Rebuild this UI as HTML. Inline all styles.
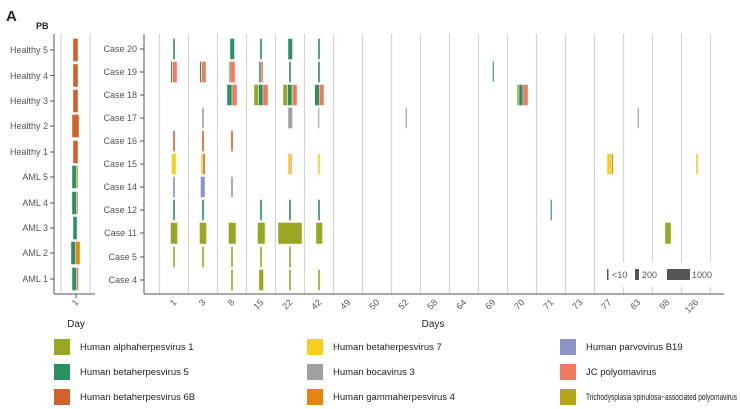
<!DOCTYPE html>
<html><head><meta charset="utf-8"><style>
html,body{margin:0;padding:0;background:#fff;}
svg{display:block;font-family:"Liberation Sans",Arial,sans-serif;}
.t{fill:#555;font-size:9px;}
.g{stroke:#d4d4d4;stroke-width:1.2;}
rect.b{stroke:#fff;stroke-width:0.4;}
</style></head><body>
<svg width="740" height="409" viewBox="0 0 740 409">
<text x="6" y="21" font-size="15" font-weight="bold" fill="#222">A</text>
<text x="36" y="29" font-size="9" font-weight="bold" fill="#222">PB</text>

<g class="g"><line x1="61" y1="34" x2="61" y2="294"/><line x1="90" y1="34" x2="90" y2="294"/></g>
<line x1="54" y1="34" x2="54" y2="294" stroke="#555"/>
<line x1="54" y1="294" x2="95" y2="294" stroke="#555"/>
<g class="t" text-anchor="end">
<text x="48" y="53">Healthy 5</text><text x="48" y="79">Healthy 4</text><text x="48" y="104">Healthy 3</text><text x="48" y="129">Healthy 2</text><text x="48" y="155">Healthy 1</text><text x="48" y="180">AML 5</text><text x="48" y="206">AML 4</text><text x="48" y="231">AML 3</text><text x="48" y="256">AML 2</text><text x="48" y="282">AML 1</text>
</g>
<g stroke="#555"><line x1="50" y1="50" x2="54" y2="50"/><line x1="50" y1="75.5" x2="54" y2="75.5"/><line x1="50" y1="101" x2="54" y2="101"/><line x1="50" y1="126" x2="54" y2="126"/><line x1="50" y1="152" x2="54" y2="152"/><line x1="50" y1="177" x2="54" y2="177"/><line x1="50" y1="203" x2="54" y2="203"/><line x1="50" y1="228" x2="54" y2="228"/><line x1="50" y1="253" x2="54" y2="253"/><line x1="50" y1="279" x2="54" y2="279"/><line x1="76" y1="294" x2="76" y2="298"/></g>
<g>
<rect class="b" x="73" y="38.5" width="5" height="23" fill="#d2622a"/>
<rect class="b" x="73" y="64" width="5" height="23" fill="#d2622a"/>
<rect class="b" x="73" y="89.5" width="5" height="23" fill="#d2622a"/>
<rect class="b" x="72" y="114.5" width="7" height="23" fill="#d2622a"/>
<rect class="b" x="73" y="140.5" width="5" height="23" fill="#d2622a"/>
<rect class="b" x="72" y="165.5" width="4.5" height="23" fill="#2a9160"/><rect class="b" x="76.5" y="165.5" width="1.5" height="23" fill="#9aa722"/>
<rect class="b" x="72" y="191.5" width="4.5" height="23" fill="#2a9160"/><rect class="b" x="76.5" y="191.5" width="1.5" height="23" fill="#ef7a5f"/>
<rect class="b" x="73" y="216.5" width="4" height="23" fill="#2a9160"/>
<rect class="b" x="71" y="241.5" width="4.5" height="23" fill="#2a9160"/><rect class="b" x="75.5" y="241.5" width="4.5" height="23" fill="#e5860f"/>
<rect class="b" x="72" y="267.5" width="4.5" height="23" fill="#2a9160"/><rect class="b" x="76.5" y="267.5" width="2" height="23" fill="#ef7a5f"/>
</g>
<text class="t" transform="translate(79,303) rotate(-45)" text-anchor="end">1</text>
<text x="76" y="327" font-size="10" fill="#222" text-anchor="middle">Day</text>

<g class="g">
<line x1="159.5" y1="34" x2="159.5" y2="294"/><line x1="188.5" y1="34" x2="188.5" y2="294"/><line x1="217.5" y1="34" x2="217.5" y2="294"/><line x1="246.5" y1="34" x2="246.5" y2="294"/><line x1="275.5" y1="34" x2="275.5" y2="294"/><line x1="304.5" y1="34" x2="304.5" y2="294"/><line x1="333.5" y1="34" x2="333.5" y2="294"/><line x1="362.5" y1="34" x2="362.5" y2="294"/><line x1="391.5" y1="34" x2="391.5" y2="294"/><line x1="420.5" y1="34" x2="420.5" y2="294"/><line x1="449.5" y1="34" x2="449.5" y2="294"/><line x1="478.5" y1="34" x2="478.5" y2="294"/><line x1="507.5" y1="34" x2="507.5" y2="294"/><line x1="536.5" y1="34" x2="536.5" y2="294"/><line x1="565.5" y1="34" x2="565.5" y2="294"/><line x1="594.5" y1="34" x2="594.5" y2="294"/><line x1="623.5" y1="34" x2="623.5" y2="294"/><line x1="652.5" y1="34" x2="652.5" y2="294"/><line x1="681.5" y1="34" x2="681.5" y2="294"/><line x1="710.5" y1="34" x2="710.5" y2="294"/>
</g>
<rect x="600" y="262" width="115" height="25" fill="#fff"/>
<line x1="144" y1="34" x2="144" y2="294" stroke="#555"/>
<line x1="144" y1="294" x2="724" y2="294" stroke="#555"/>
<g class="t" text-anchor="end">
<text x="137" y="52">Case 20</text><text x="137" y="75">Case 19</text><text x="137" y="98">Case 18</text><text x="137" y="121">Case 17</text><text x="137" y="144">Case 16</text><text x="137" y="167">Case 15</text><text x="137" y="190">Case 14</text><text x="137" y="213">Case 12</text><text x="137" y="236">Case 11</text><text x="137" y="260">Case 5</text><text x="137" y="283">Case 4</text>
</g>
<g stroke="#555"><line x1="140" y1="49" x2="144" y2="49"/><line x1="140" y1="72" x2="144" y2="72"/><line x1="140" y1="95" x2="144" y2="95"/><line x1="140" y1="118" x2="144" y2="118"/><line x1="140" y1="141" x2="144" y2="141"/><line x1="140" y1="164" x2="144" y2="164"/><line x1="140" y1="187" x2="144" y2="187"/><line x1="140" y1="210" x2="144" y2="210"/><line x1="140" y1="233" x2="144" y2="233"/><line x1="140" y1="257" x2="144" y2="257"/><line x1="140" y1="280" x2="144" y2="280"/></g>
<g class="t" text-anchor="end" font-size="9.5">
<text transform="translate(177,303) rotate(-45)">1</text><text transform="translate(206,303) rotate(-45)">3</text><text transform="translate(235,303) rotate(-45)">8</text><text transform="translate(264,303) rotate(-45)">15</text><text transform="translate(293,303) rotate(-45)">22</text><text transform="translate(322,303) rotate(-45)">42</text><text transform="translate(351,303) rotate(-45)">49</text><text transform="translate(380,303) rotate(-45)">50</text><text transform="translate(409,303) rotate(-45)">52</text><text transform="translate(438,303) rotate(-45)">58</text><text transform="translate(467,303) rotate(-45)">64</text><text transform="translate(496,303) rotate(-45)">69</text><text transform="translate(525,303) rotate(-45)">70</text><text transform="translate(554,303) rotate(-45)">71</text><text transform="translate(583,303) rotate(-45)">73</text><text transform="translate(612,303) rotate(-45)">77</text><text transform="translate(641,303) rotate(-45)">83</text><text transform="translate(670,303) rotate(-45)">98</text><text transform="translate(699,303) rotate(-45)">126</text>
</g>
<text x="433" y="327" font-size="10" fill="#222" text-anchor="middle">Days</text>

<g>
<rect class="b" x="173" y="38.5" width="2" height="21" fill="#2a9160"/>
<rect class="b" x="230" y="38.5" width="4.5" height="21" fill="#2a9160"/>
<rect class="b" x="260" y="38.5" width="2" height="21" fill="#2a9160"/>
<rect class="b" x="288" y="38.5" width="4.5" height="21" fill="#2a9160"/>
<rect class="b" x="318" y="38.5" width="2" height="21" fill="#2a9160"/>
<rect class="b" x="492.5" y="61" width="1.5" height="21" fill="#2a9160"/>
<rect class="b" x="170.7" y="61.5" width="1.5" height="21" fill="#2a9160"/><rect class="b" x="172.5" y="61.5" width="4.5" height="21" fill="#ef7a5f"/>
<rect class="b" x="199.7" y="61.5" width="1.5" height="21" fill="#2a9160"/><rect class="b" x="201.5" y="61.5" width="4.5" height="21" fill="#ef7a5f"/>
<rect class="b" x="228.7" y="61.5" width="1" height="21" fill="#2a9160"/><rect class="b" x="230" y="61.5" width="5" height="21" fill="#ef7a5f"/>
<rect class="b" x="259" y="61.5" width="2" height="21" fill="#2a9160"/><rect class="b" x="261" y="61.5" width="2" height="21" fill="#ef7a5f"/>
<rect class="b" x="289" y="61.5" width="2" height="21" fill="#2a9160"/>
<rect class="b" x="318" y="61.5" width="2" height="21" fill="#2a9160"/>
<rect class="b" x="227" y="84.5" width="5" height="21" fill="#2a9160"/><rect class="b" x="232" y="84.5" width="5" height="21" fill="#ef7a5f"/>
<rect class="b" x="254" y="84.5" width="4.3" height="21" fill="#9aa722"/><rect class="b" x="258.5" y="84.5" width="4.5" height="21" fill="#2a9160"/><rect class="b" x="263" y="84.5" width="5" height="21" fill="#ef7a5f"/>
<rect class="b" x="283" y="84.5" width="4.3" height="21" fill="#9aa722"/><rect class="b" x="287.5" y="84.5" width="4.5" height="21" fill="#2a9160"/><rect class="b" x="292.3" y="84.5" width="4.7" height="21" fill="#ef7a5f"/>
<rect class="b" x="314.7" y="84.5" width="4.5" height="21" fill="#2a9160"/><rect class="b" x="319.3" y="84.5" width="4.7" height="21" fill="#ef7a5f"/>
<rect class="b" x="517" y="84.5" width="2" height="21" fill="#9aa722"/><rect class="b" x="519" y="84.5" width="4" height="21" fill="#2a9160"/><rect class="b" x="523" y="84.5" width="5" height="21" fill="#ef7a5f"/>
<rect class="b" x="202" y="107.5" width="2" height="21" fill="#a0a0a0"/>
<rect class="b" x="288" y="107.5" width="4.5" height="21" fill="#a0a0a0"/>
<rect class="b" x="318" y="107.5" width="1.5" height="21" fill="#a0a0a0"/>
<rect class="b" x="405.5" y="107.5" width="1.5" height="21" fill="#a0a0a0"/>
<rect class="b" x="637.5" y="107.5" width="1.5" height="21" fill="#a0a0a0"/>
<rect class="b" x="173" y="130.5" width="2" height="21" fill="#d2622a"/>
<rect class="b" x="202" y="130.5" width="2" height="21" fill="#d2622a"/>
<rect class="b" x="231" y="130.5" width="2" height="21" fill="#d2622a"/>
<rect class="b" x="171.5" y="153.5" width="4.5" height="21" fill="#f9cf1f"/>
<rect class="b" x="201" y="153.5" width="2" height="21" fill="#f9cf1f"/><rect class="b" x="203" y="153.5" width="2" height="21" fill="#d2622a"/>
<rect class="b" x="288" y="153.5" width="2.5" height="21" fill="#f9cf1f"/><rect class="b" x="290.5" y="153.5" width="1" height="21" fill="#d2622a"/><rect class="b" x="291.5" y="153.5" width="0.8" height="21" fill="#ef7a5f"/>
<rect class="b" x="318" y="153.5" width="2" height="21" fill="#f9cf1f"/>
<rect class="b" x="607" y="153.5" width="5" height="21" fill="#f9cf1f"/><rect class="b" x="612" y="153.5" width="1.3" height="21" fill="#d2622a"/>
<rect class="b" x="696" y="153.5" width="2" height="21" fill="#f9cf1f"/>
<rect class="b" x="173" y="176.5" width="2" height="21" fill="#8c93c8"/>
<rect class="b" x="200.5" y="176.5" width="4.5" height="21" fill="#8c93c8"/>
<rect class="b" x="231" y="176.5" width="2" height="21" fill="#8c93c8"/>
<rect class="b" x="173" y="199.5" width="2" height="21" fill="#2a9160"/>
<rect class="b" x="202" y="199.5" width="2" height="21" fill="#2a9160"/>
<rect class="b" x="260" y="199.5" width="2" height="21" fill="#2a9160"/>
<rect class="b" x="289" y="199.5" width="2" height="21" fill="#2a9160"/>
<rect class="b" x="318" y="199.5" width="2" height="21" fill="#2a9160"/>
<rect class="b" x="550.5" y="199.5" width="1.5" height="21" fill="#2a9160"/>
<rect class="b" x="170.5" y="222.5" width="7" height="21.5" fill="#9aa722"/>
<rect class="b" x="199.5" y="222.5" width="7" height="21.5" fill="#9aa722"/>
<rect class="b" x="228.5" y="222.5" width="7.5" height="21.5" fill="#9aa722"/>
<rect class="b" x="257.5" y="222.5" width="7.5" height="21.5" fill="#9aa722"/>
<rect class="b" x="278" y="222.5" width="24" height="21.5" fill="#9aa722"/>
<rect class="b" x="316" y="222.5" width="6.5" height="21.5" fill="#9aa722"/>
<rect class="b" x="665" y="222.5" width="6" height="21.5" fill="#9aa722"/>
<rect class="b" x="173" y="246.5" width="2" height="21" fill="#9aa722"/>
<rect class="b" x="202" y="246.5" width="2" height="21" fill="#9aa722"/>
<rect class="b" x="231" y="246.5" width="2" height="21" fill="#9aa722"/>
<rect class="b" x="260" y="246.5" width="2" height="21" fill="#9aa722"/>
<rect class="b" x="289" y="246.5" width="2" height="21" fill="#9aa722"/>
<rect class="b" x="231" y="269.5" width="2" height="21" fill="#9aa722"/>
<rect class="b" x="259" y="269.5" width="4.5" height="21" fill="#9aa722"/>
<rect class="b" x="289" y="269.5" width="2" height="21" fill="#9aa722"/>
<rect class="b" x="318" y="269.5" width="2" height="21" fill="#9aa722"/>
</g>
<rect x="607" y="269" width="1.5" height="11" fill="#555"/><text x="612" y="278" class="t">&lt;10</text>
<rect x="635" y="269" width="4" height="11" fill="#555"/><text x="642" y="278" class="t">200</text>
<rect x="667" y="269" width="23" height="11" fill="#555"/><text x="692" y="278" class="t">1000</text>

<g font-size="9.5" fill="#222">
<rect x="54" y="339" width="16" height="16" fill="#9aa722"/><text x="80" y="350">Human alphaherpesvirus 1</text>
<rect x="54" y="364" width="16" height="16" fill="#2a9160"/><text x="80" y="375">Human betaherpesvirus 5</text>
<rect x="54" y="389" width="16" height="16" fill="#d2622a"/><text x="80" y="400">Human betaherpesvirus 6B</text>
<rect x="307" y="339" width="16" height="16" fill="#f9cf1f"/><text x="333" y="350">Human betaherpesvirus 7</text>
<rect x="307" y="364" width="16" height="16" fill="#a0a0a0"/><text x="333" y="375">Human bocavirus 3</text>
<rect x="307" y="389" width="16" height="16" fill="#e5860f"/><text x="333" y="400">Human gammaherpesvirus 4</text>
<rect x="560" y="339" width="16" height="16" fill="#8c93c8"/><text x="586" y="350">Human parvovirus B19</text>
<rect x="560" y="364" width="16" height="16" fill="#ef7a5f"/><text x="586" y="375">JC polyomavirus</text>
<rect x="560" y="389" width="16" height="16" fill="#b8a418"/><text x="586" y="400" textLength="151" lengthAdjust="spacingAndGlyphs">Trichodysplasia spinulosa−associated polyomavirus</text>
</g>
</svg>
</body></html>
